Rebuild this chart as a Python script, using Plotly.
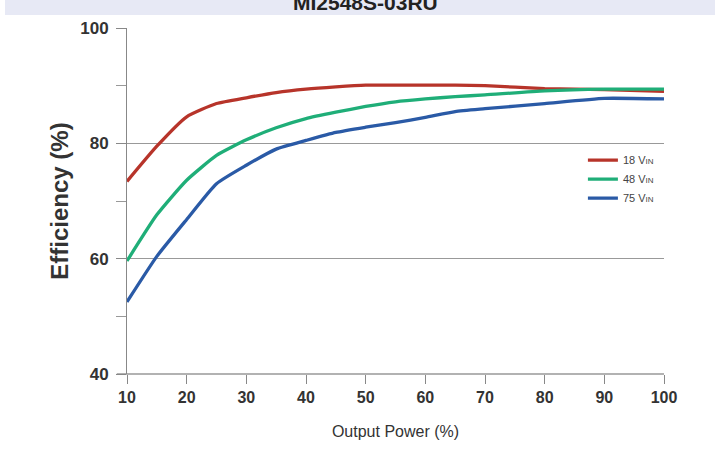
import plotly.graph_objects as go

title_text = "MI2548S-03RU"
output_power = [10, 15, 20, 25, 30, 35, 40, 45, 50, 55, 60, 65, 70, 80, 90, 100]
eff_18vin = [73.4, 79.5, 84.6, 86.9, 87.9, 88.8, 89.4, 89.8, 90.1, 90.1, 90.1, 90.1, 90.0, 89.5, 89.3, 89.0]
eff_48vin = [59.6, 67.6, 73.6, 77.9, 80.6, 82.7, 84.3, 85.4, 86.4, 87.2, 87.7, 88.1, 88.4, 89.1, 89.4, 89.4]
eff_75vin = [52.5, 60.4, 66.8, 73.0, 76.2, 79.0, 80.5, 81.9, 82.8, 83.6, 84.5, 85.5, 86.0, 86.9, 87.8, 87.7]
series_names = ["18 V<span style='font-size:8px'>IN</span>",
                "48 V<span style='font-size:8px'>IN</span>",
                "75 V<span style='font-size:8px'>IN</span>"]
series_colors = ["#b7342a", "#1fae78", "#2a5aa6"]
x_ticks = [10, 20, 30, 40, 50, 60, 70, 80, 90, 100]
y_ticks = [40, 60, 80, 100]

fig = go.Figure()
for name, vals, col in zip(series_names, [eff_18vin, eff_48vin, eff_75vin], series_colors):
    fig.add_trace(go.Scatter(
        x=output_power, y=vals, mode="lines", name=name,
        line=dict(color=col, width=3.3, shape="spline", smoothing=0.5),
    ))

font_main = "Liberation Sans, Arial, sans-serif"

fig.update_layout(
    width=719, height=466,
    margin=dict(l=127, r=55, t=28, b=92),
    paper_bgcolor="white", plot_bgcolor="white",
    showlegend=True,
    legend=dict(
        x=0.849, y=0.66, xanchor="left", yanchor="top",
        font=dict(family=font_main, size=11, color="#444"),
        bgcolor="rgba(0,0,0,0)", itemwidth=30, tracegroupgap=0,
    ),
    xaxis=dict(
        range=[10, 100], tickvals=x_ticks, ticks="outside", ticklen=9, tickwidth=1,
        tickcolor="#888", showline=False, showgrid=False, zeroline=False,
        tickfont=dict(family=font_main, size=16, color="#333", weight="bold"),
        title=dict(text="Output Power (%)",
                   font=dict(family=font_main, size=16, color="#333"), standoff=20),
    ),
    yaxis=dict(
        range=[40, 100], tickvals=y_ticks, ticks="outside", ticklen=10, tickwidth=1,
        tickcolor="#888", showline=True, linecolor="#888", linewidth=1,
        showgrid=True, gridcolor="#999", gridwidth=1.3, zeroline=False,
        tickfont=dict(family=font_main, size=17, color="#333", weight="bold"),
        ticklabelstandoff=4,
        minor=dict(tickvals=[50, 70, 90], ticks="outside", ticklen=10, tickcolor="#999", showgrid=False),
        title=dict(text="Efficiency (%)", font=dict(family=font_main, size=24, color="#333", weight="bold"),
                   standoff=4),
    ),
)

# x axis baseline extends left to the y tick length
fig.add_shape(type="line", xref="paper", yref="paper", x0=-0.019, x1=1, y0=0, y1=0,
              line=dict(color="#999", width=1.3), layer="below")
# header band
fig.add_shape(type="rect", xref="paper", yref="paper", x0=-0.2272, x1=1.095, y0=1.0376, y1=1.1,
              fillcolor="#e7e9f5", line=dict(width=0), layer="below")
fig.add_annotation(text="<b>" + title_text + "</b>", xref="paper", yref="paper",
                   x=0.445, y=1.0723, xanchor="center", yanchor="middle", showarrow=False,
                   font=dict(family=font_main, size=21, color="#222"))

fig.write_html("out.html", config={"displayModeBar": False},
               post_script="document.body.style.margin='0';")
